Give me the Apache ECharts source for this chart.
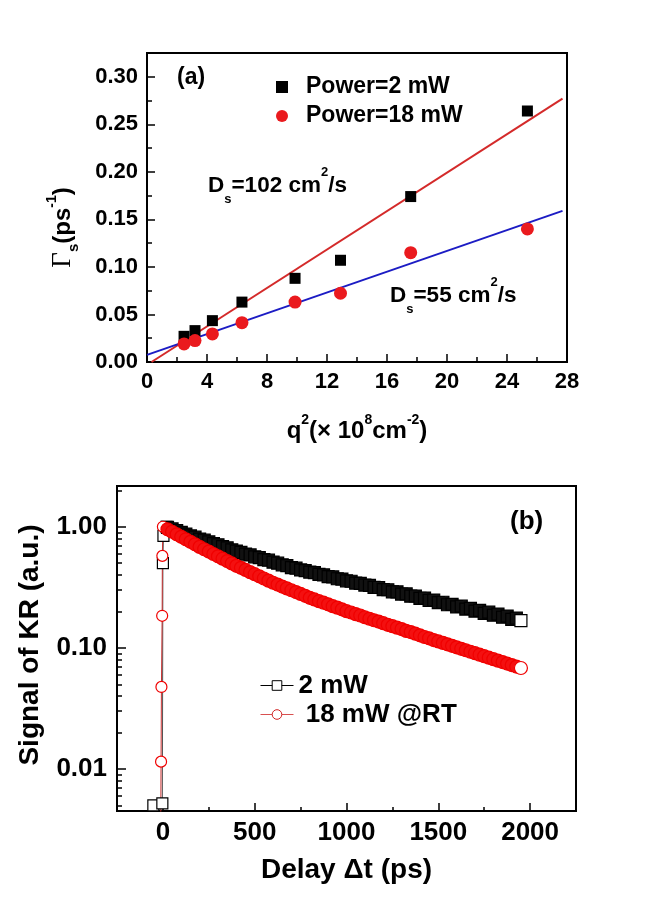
<!DOCTYPE html>
<html><head><meta charset="utf-8">
<script src="https://cdn.jsdelivr.net/npm/echarts@6/dist/echarts.min.js"></script>
<style>html,body{margin:0;padding:0;background:#fff}#c{width:648px;height:917px}</style>
</head><body><div id="c"></div>
<script>
// ---------- Panel (a) data ----------
const q2 = [2.47, 3.2, 4.36, 6.33, 9.87, 12.9, 17.58, 25.36];
const gamma2mW = [0.027, 0.033, 0.0435, 0.063, 0.088, 0.107, 0.174, 0.264];
const gamma18mW = [0.019, 0.0225, 0.0295, 0.0414, 0.063, 0.0723, 0.115, 0.140];
const fitLine2mW = [[0.3, 0], [27.7, 0.277]];
const fitLine18mW = [[0, 0.0075], [27.7, 0.159]];
const yTicksA = [0, 0.05, 0.10, 0.15, 0.20, 0.25, 0.30];
const yMinorA = [0.025, 0.075, 0.125, 0.175, 0.225, 0.275];

// ---------- Panel (b) data ----------
const riseDelay2mW = [-52, -3, 0, 3, 20];
const riseSignal2mW = [0.005, 0.0052, 0.50, 0.84, 1.0];
const riseDelay18mW = [-12, -10, -8, -4, -3, 0];
const riseSignal18mW = [0.003, 0.0115, 0.0476, 0.184, 0.575, 1.0];
const decayDelay = [25,50,75,100,125,150,175,200,225,250,275,300,325,350,375,400,425,450,475,500,525,550,575,600,625,650,675,700,725,750,775,800,825,850,875,900,925,950,975,1000,1025,1050,1075,1100,1125,1150,1175,1200,1225,1250,1275,1300,1325,1350,1375,1400,1425,1450,1475,1500,1525,1550,1575,1600,1625,1650,1675,1700,1725,1750,1775,1800,1825,1850,1875,1900,1925,1950];
const decay2mW = [0.99,0.96,0.93,0.90,0.87,0.84,0.82,0.79,0.775,0.75,
  0.725,0.71,0.685,0.67,0.645,0.63,0.615,0.595,0.585,0.565,
  0.555,0.535,0.53,0.51,0.50,0.485,0.478,0.46,0.455,0.44,
  0.435,0.422,0.418,0.405,0.40,0.388,0.385,0.372,0.37,0.358,
  0.355,0.343,0.341,0.33,0.328,0.316,0.315,0.303,0.302,0.29,
  0.29,0.278,0.279,0.267,0.268,0.256,0.258,0.246,0.248,0.236,
  0.238,0.227,0.229,0.218,0.221,0.209,0.212,0.201,0.204,0.193,
  0.197,0.186,0.19,0.179,0.183,0.172,0.176,0.168];
const decay18mW = [0.953,0.909,0.866,0.826,0.788,0.751,0.716,0.682,0.652,0.624,
  0.596,0.570,0.545,0.521,0.498,0.476,0.458,0.440,0.422,0.406,
  0.390,0.374,0.359,0.345,0.333,0.321,0.310,0.299,0.289,0.279,
  0.269,0.259,0.251,0.243,0.236,0.229,0.221,0.215,0.208,0.201,
  0.196,0.190,0.185,0.179,0.174,0.169,0.165,0.160,0.155,0.151,
  0.147,0.143,0.138,0.135,0.131,0.127,0.123,0.120,0.116,0.113,
  0.110,0.107,0.104,0.101,0.0983,0.0956,0.0929,0.0904,0.0878,0.0854,
  0.0830,0.0807,0.0785,0.0763,0.0742,0.0721,0.0701,0.0682];
const xTicksB = [0, 500, 1000, 1500, 2000];
const xMinorB = [250, 750, 1250, 1750];
const yTicksB = [0.01, 0.1, 1];
const yMinorB = [0.005,0.006,0.007,0.008,0.009,0.02,0.03,0.04,0.05,0.06,0.07,0.08,0.09,0.2,0.3,0.4,0.5,0.6,0.7,0.8,0.9,2];

// ---------- build ----------
const FONT = '"Liberation Sans", Arial, sans-serif';
const SERIF = '"Liberation Serif", "Times New Roman", serif';
const BLACK = '#000';
const RED_B = '#f00000';

// rise points and the last point are drawn hollow (white inside), the dense decay band filled
const buildPoints = (xs, ys, riseX, riseY) => {
  const pts = riseX.map((t, i) => ({ value: [t, riseY[i]], itemStyle: { color: '#fff' }, symbolSize: 11 }));
  xs.forEach((t, i) => {
    const isLast = i === xs.length - 1;
    pts.push(isLast ? { value: [t, ys[i]], itemStyle: { color: '#fff' } } : [t, ys[i]]);
  });
  return pts;
};

const tickStyle = { color: BLACK, width: 1.5 };
const axisLine = { show: true, onZero: false, lineStyle: { color: BLACK, width: 2 } };
const lblA = { color: BLACK, fontSize: 22, fontWeight: 'bold', fontFamily: FONT };
const lblB = { color: BLACK, fontSize: 26, fontWeight: 'bold', fontFamily: FONT };

const chart = echarts.init(document.getElementById('c'), null, { renderer: 'canvas', width: 648, height: 917 });

const option = {
  animation: false,
  backgroundColor: '#fff',
  grid: [
    { left: 147, top: 53, width: 420, height: 309, show: true, borderColor: BLACK, borderWidth: 2, backgroundColor: 'transparent', outerBoundsMode: 'none' },
    { left: 117, top: 486, width: 459, height: 325, show: true, borderColor: BLACK, borderWidth: 2, backgroundColor: 'transparent', outerBoundsMode: 'none' }
  ],
  xAxis: [
    {
      gridIndex: 0, type: 'value', min: 0, max: 28, interval: 4,
      axisLine: axisLine,
      axisTick: { show: true, inside: true, length: 8, lineStyle: tickStyle },
      minorTick: { show: true, splitNumber: 2, length: 5, lineStyle: tickStyle },
      axisLabel: Object.assign({ margin: 9 }, lblA),
      splitLine: { show: false }, minorSplitLine: { show: false },
      name: '{n|q}{sup|2}{n|(× 10}{sup|8}{n|cm}{sup|-2}{n|)}',
      nameLocation: 'middle', nameGap: 51,
      nameTextStyle: { rich: {
        n: { fontSize: 24, fontWeight: 'bold', fontFamily: FONT, lineHeight: 36, color: BLACK },
        sup: { fontSize: 14, fontWeight: 'bold', fontFamily: FONT, lineHeight: 20, verticalAlign: 'top', color: BLACK }
      } }
    },
    {
      gridIndex: 1, type: 'value', min: -250, max: 2250,
      axisLine: axisLine,
      axisTick: { show: true, inside: true, length: 8, lineStyle: tickStyle, customValues: xTicksB },
      axisLabel: Object.assign({ margin: 9, customValues: xTicksB, formatter: v => String(v) }, lblB),
      splitLine: { show: false },
      name: 'Delay Δt (ps)', nameLocation: 'middle', nameGap: 44,
      nameTextStyle: { fontSize: 28, fontWeight: 'bold', fontFamily: FONT, color: BLACK, lineHeight: 30 }
    },
    {
      gridIndex: 1, type: 'value', min: -250, max: 2250, position: 'bottom',
      axisLine: { show: false, onZero: false },
      axisTick: { show: true, inside: true, length: 4, lineStyle: tickStyle, customValues: xMinorB },
      axisLabel: { show: false }, splitLine: { show: false }
    }
  ],
  yAxis: [
    {
      gridIndex: 0, type: 'value', min: 0, max: 0.325,
      axisLine: axisLine,
      axisTick: { show: true, inside: true, length: 8, lineStyle: tickStyle, customValues: yTicksA },
      axisLabel: Object.assign({ margin: 9, customValues: yTicksA, formatter: v => v.toFixed(2) }, lblA),
      splitLine: { show: false },
      name: '{g|Γ}{sub|s}{n|(ps}{sup|-1}{n|)}',
      nameLocation: 'middle', nameGap: 66, nameRotate: 90,
      nameTextStyle: { padding: [0, 40, 0, 0], rich: {
        g: { fontSize: 27, fontFamily: SERIF, lineHeight: 36, color: BLACK },
        n: { fontSize: 24, fontWeight: 'bold', fontFamily: FONT, lineHeight: 36, color: BLACK },
        sub: { fontSize: 15, fontWeight: 'bold', fontFamily: FONT, lineHeight: 22, verticalAlign: 'bottom', color: BLACK },
        sup: { fontSize: 14, fontWeight: 'bold', fontFamily: FONT, lineHeight: 16, verticalAlign: 'top', color: BLACK }
      } }
    },
    {
      gridIndex: 0, type: 'value', min: 0, max: 0.325, position: 'left',
      axisLine: { show: false, onZero: false },
      axisTick: { show: true, inside: true, length: 5, lineStyle: tickStyle, customValues: yMinorA },
      axisLabel: { show: false }, splitLine: { show: false }
    },
    {
      gridIndex: 1, type: 'log', logBase: 10, min: 0.0045, max: 2.17,
      axisLine: axisLine,
      axisTick: { show: true, inside: true, length: 9, lineStyle: tickStyle, customValues: yTicksB },
      axisLabel: Object.assign({ margin: 10, customValues: yTicksB, formatter: v => Number(v).toFixed(2) }, lblB),
      splitLine: { show: false }, minorTick: { show: false },
      name: 'Signal of KR (a.u.)', nameLocation: 'middle', nameGap: 69, nameRotate: 90,
      nameTextStyle: { fontSize: 28, fontWeight: 'bold', fontFamily: FONT, color: BLACK, lineHeight: 30, padding: [0, 0, 0, 7] }
    },
    {
      gridIndex: 1, type: 'log', logBase: 10, min: 0.0045, max: 2.17, position: 'left',
      axisLine: { show: false, onZero: false },
      axisTick: { show: true, inside: true, length: 5, lineStyle: tickStyle, customValues: yMinorB },
      axisLabel: { show: false }, splitLine: { show: false }, minorTick: { show: false }
    }
  ],
  legend: [
    {
      orient: 'vertical', left: 276, top: 75, padding: 0, itemWidth: 38, itemHeight: 12, itemGap: 5,
      textStyle: { fontSize: 23, fontWeight: 'bold', fontFamily: FONT, color: BLACK, lineHeight: 24 },
      data: [
        { name: 'Power=2 mW', icon: 'path://M0,0H10V10H0Z' },
        { name: 'Power=18 mW', icon: 'circle' }
      ]
    },
    {
      orient: 'vertical', left: 260, top: 672, padding: 0, itemWidth: 33, itemHeight: 12, itemGap: 2,
      textStyle: { fontSize: 26, fontWeight: 'bold', fontFamily: FONT, color: BLACK, lineHeight: 27 },
      data: [
        { name: '2 mW', itemStyle: { color: '#fff', borderColor: BLACK, borderWidth: 1 }, lineStyle: { color: BLACK, width: 1 } },
        { name: ' 18 mW @RT', itemStyle: { color: '#fff', borderColor: '#d02020', borderWidth: 1 }, lineStyle: { color: '#d85050', width: 1 } }
      ]
    }
  ],
  series: [
    { name: 'fit 2 mW', type: 'line', xAxisIndex: 0, yAxisIndex: 0, data: fitLine2mW, symbol: 'none',
      lineStyle: { color: '#d42a2a', width: 2 }, z: 2, silent: true },
    { name: 'fit 18 mW', type: 'line', xAxisIndex: 0, yAxisIndex: 0, data: fitLine18mW, symbol: 'none',
      lineStyle: { color: '#1c1cc4', width: 2 }, z: 2, silent: true },
    { name: 'Power=2 mW', type: 'scatter', xAxisIndex: 0, yAxisIndex: 0, symbol: 'rect', symbolSize: 11,
      itemStyle: { color: BLACK, opacity: 1 }, data: q2.map((x, i) => [x, gamma2mW[i]]), z: 3 },
    { name: 'Power=18 mW', type: 'scatter', xAxisIndex: 0, yAxisIndex: 0, symbol: 'circle', symbolSize: 13,
      itemStyle: { color: '#ea1a1e', opacity: 1 }, data: q2.map((x, i) => [x, gamma18mW[i]]), z: 3 },
    { name: '2 mW', type: 'line', xAxisIndex: 1, yAxisIndex: 2, symbol: 'rect', symbolSize: 12, showAllSymbol: true,
      itemStyle: { color: '#111', borderColor: BLACK, borderWidth: 1.2 },
      lineStyle: { color: '#555', width: 1 },
      data: buildPoints(decayDelay, decay2mW, riseDelay2mW, riseSignal2mW) },
    { name: ' 18 mW @RT', type: 'line', xAxisIndex: 1, yAxisIndex: 2, symbol: 'circle', symbolSize: 13, showAllSymbol: true,
      itemStyle: { color: '#f41010', borderColor: RED_B, borderWidth: 1.2 },
      lineStyle: { color: '#c83030', width: 1 },
      data: buildPoints(decayDelay, decay18mW, riseDelay18mW, riseSignal18mW) }
  ],
  graphic: [
    { type: 'text', x: 177, y: 78, style: { text: '(a)', fontSize: 23, fontWeight: 'bold', fontFamily: FONT, fill: BLACK, verticalAlign: 'middle' } },
    { type: 'text', x: 510, y: 522, style: { text: '(b)', fontSize: 26, fontWeight: 'bold', fontFamily: FONT, fill: BLACK, verticalAlign: 'middle' } },
    { type: 'text', x: 208, y: 186, style: { text: '{d|D}{sub|s}{d|=102 cm}{sup|2}{d|/s}', verticalAlign: 'middle',
      rich: {
        d: { fontSize: 22.5, fontWeight: 'bold', fontFamily: FONT, fill: BLACK, lineHeight: 40 },
        sub: { fontSize: 13, fontWeight: 'bold', fontFamily: FONT, fill: BLACK, lineHeight: 13, verticalAlign: 'bottom' },
        sup: { fontSize: 13, fontWeight: 'bold', fontFamily: FONT, fill: BLACK, lineHeight: 30, verticalAlign: 'top' }
      } } },
    { type: 'text', x: 390, y: 296, style: { text: '{d|D}{sub|s}{d|=55 cm}{sup|2}{d|/s}', verticalAlign: 'middle',
      rich: {
        d: { fontSize: 22.5, fontWeight: 'bold', fontFamily: FONT, fill: BLACK, lineHeight: 40 },
        sub: { fontSize: 13, fontWeight: 'bold', fontFamily: FONT, fill: BLACK, lineHeight: 13, verticalAlign: 'bottom' },
        sup: { fontSize: 13, fontWeight: 'bold', fontFamily: FONT, fill: BLACK, lineHeight: 30, verticalAlign: 'top' }
      } } }
  ]
};
chart.setOption(option);
</script>
</body></html>
